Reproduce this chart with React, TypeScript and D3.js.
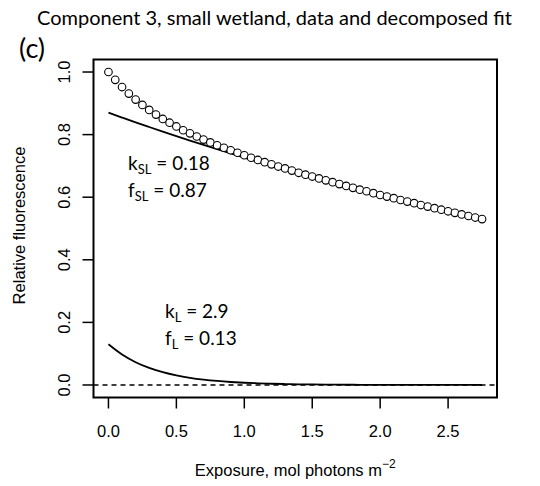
import React, { useEffect, useRef } from 'react';
import * as d3 from 'd3';

// measured exposure values (mol photons m^-2)
const exposure: number[] = [
  0.0, 0.05, 0.1, 0.15, 0.2, 0.25, 0.3, 0.35, 0.4, 0.45, 0.5, 0.55, 0.6, 0.65,
  0.7, 0.75, 0.8, 0.85, 0.9, 0.95, 1.0, 1.05, 1.1, 1.15, 1.2, 1.25, 1.3, 1.35,
  1.4, 1.45, 1.5, 1.55, 1.6, 1.65, 1.7, 1.75, 1.8, 1.85, 1.9, 1.95, 2.0, 2.05,
  2.1, 2.15, 2.2, 2.25, 2.3, 2.35, 2.4, 2.45, 2.5, 2.55, 2.6, 2.65, 2.7, 2.75,
];

// relative fluorescence (open circles)
const fluorescence: number[] = [
  1.0, 0.975, 0.952, 0.931, 0.912, 0.895, 0.879, 0.864, 0.85, 0.838, 0.826,
  0.814, 0.804, 0.794, 0.784, 0.775, 0.766, 0.758, 0.75, 0.742, 0.734, 0.726,
  0.719, 0.712, 0.705, 0.698, 0.692, 0.685, 0.678, 0.672, 0.666, 0.66, 0.654,
  0.648, 0.642, 0.636, 0.63, 0.624, 0.619, 0.613, 0.607, 0.602, 0.597, 0.591,
  0.586, 0.581, 0.575, 0.57, 0.565, 0.56, 0.555, 0.55, 0.545, 0.54, 0.535, 0.53,
];

// decomposed fit components
const fitX: number[] = [
  0, 0.1, 0.2, 0.3, 0.4, 0.5, 0.6, 0.7, 0.8, 0.9, 1.0, 1.1, 1.2, 1.3, 1.4, 1.5,
  1.6, 1.7, 1.8, 1.9, 2.0, 2.1, 2.2, 2.3, 2.4, 2.5, 2.6, 2.7, 2.75,
];
const slowFit: number[] = [
  0.87, 0.8545, 0.8392, 0.8243, 0.8096, 0.7951, 0.7809, 0.767, 0.7533, 0.7399,
  0.7267, 0.7137, 0.701, 0.6885, 0.6762, 0.6641, 0.6523, 0.6407, 0.6292, 0.618,
  0.607, 0.5962, 0.5855, 0.5751, 0.5648, 0.5547, 0.5448, 0.5351, 0.5303,
];
const labileFit: number[] = [
  0.13, 0.0973, 0.0728, 0.0545, 0.0408, 0.0305, 0.0228, 0.0171, 0.0128, 0.0096,
  0.0072, 0.0054, 0.004, 0.003, 0.0022, 0.0017, 0.0013, 0.0009, 0.0007, 0.0005,
  0.0004, 0.0003, 0.0002, 0.0002, 0.0001, 0.0001, 0.0001, 0.0001, 0.0,
];

const xTicks = [0, 0.5, 1.0, 1.5, 2.0, 2.5];
const yTicks = [0, 0.2, 0.4, 0.6, 0.8, 1.0];

const App: React.FC = () => {
  const ref = useRef<SVGSVGElement>(null);

  useEffect(() => {
    if (!ref.current) return;
    const svg = d3.select(ref.current);
    svg.selectAll('*').remove();

    const x = d3.scaleLinear().domain([-0.11, 2.86]).range([93.5, 497]);
    const y = d3.scaleLinear().domain([-0.04, 1.04]).range([397.5, 59.5]);
    const axisFont = '"Liberation Sans", Arial, sans-serif';
    const noteFont = 'Lato, "Open Sans", sans-serif';

    // title + panel letter
    svg.append('text')
      .attr('x', 37).attr('y', 25)
      .attr('textLength', 475).attr('lengthAdjust', 'spacingAndGlyphs')
      .style('font-family', noteFont).style('font-size', '20px')
      .text('Component 3, small wetland, data and decomposed fit');
    svg.append('text')
      .attr('x', 19).attr('y', 58)
      .style('font-family', noteFont).style('font-size', '27px')
      .text('(c)');

    // dashed zero line
    svg.append('line')
      .attr('x1', x(-0.11)).attr('x2', x(2.86))
      .attr('y1', y(0)).attr('y2', y(0))
      .attr('stroke', '#000').attr('stroke-width', 1.4)
      .attr('stroke-dasharray', '5,4');

    const line = d3.line<number>()
      .x((_, i) => x(fitX[i]))
      .curve(d3.curveMonotoneX);

    svg.append('path')
      .attr('d', line.y(d => y(d))(slowFit))
      .attr('fill', 'none').attr('stroke', '#000').attr('stroke-width', 1.8);
    svg.append('path')
      .attr('d', line.y(d => y(d))(labileFit))
      .attr('fill', 'none').attr('stroke', '#000').attr('stroke-width', 1.8);

    // data points
    svg.selectAll('.pt')
      .data(fluorescence)
      .enter()
      .append('circle')
      .attr('cx', (_, i) => x(exposure[i]))
      .attr('cy', d => y(d))
      .attr('r', 3.8)
      .attr('fill', '#fff')
      .attr('stroke', '#000')
      .attr('stroke-width', 1.1);

    // box
    svg.append('rect')
      .attr('x', x(-0.11)).attr('y', y(1.04))
      .attr('width', x(2.86) - x(-0.11)).attr('height', y(-0.04) - y(1.04))
      .attr('fill', 'none').attr('stroke', '#000').attr('stroke-width', 2);

    // x axis
    const xb = y(-0.04);
    svg.selectAll('.xt')
      .data(xTicks)
      .enter()
      .append('line')
      .attr('x1', d => x(d)).attr('x2', d => x(d))
      .attr('y1', xb).attr('y2', xb + 11)
      .attr('stroke', '#000').attr('stroke-width', 1.5);
    svg.selectAll('.xl')
      .data(xTicks)
      .enter()
      .append('text')
      .attr('x', d => x(d)).attr('y', 437)
      .attr('text-anchor', 'middle')
      .style('font-family', axisFont).style('font-size', '16.5px')
      .text(d => d3.format('.1f')(d));

    // y axis
    const yl = x(-0.11);
    svg.selectAll('.yt')
      .data(yTicks)
      .enter()
      .append('line')
      .attr('x1', yl - 11).attr('x2', yl)
      .attr('y1', d => y(d)).attr('y2', d => y(d))
      .attr('stroke', '#000').attr('stroke-width', 1.5);
    svg.selectAll('.yl')
      .data(yTicks)
      .enter()
      .append('text')
      .attr('transform', d => `translate(70,${y(d)}) rotate(-90)`)
      .attr('text-anchor', 'middle')
      .style('font-family', axisFont).style('font-size', '16.5px')
      .text(d => d3.format('.1f')(d));

    // axis titles
    const xt = svg.append('text')
      .attr('x', (x(-0.11) + x(2.86)) / 2).attr('y', 476)
      .attr('text-anchor', 'middle')
      .style('font-family', axisFont).style('font-size', '16.5px');
    xt.append('tspan').text('Exposure, mol photons m');
    xt.append('tspan').attr('dy', -8).style('font-size', '12px').text('\u22122');

    svg.append('text')
      .attr('transform', `translate(25,${(y(-0.04) + y(1.04)) / 2 - 3}) rotate(-90)`)
      .attr('text-anchor', 'middle')
      .style('font-family', axisFont).style('font-size', '16.5px')
      .text('Relative fluorescence');

    // rate constant annotations
    const note = (px: number, py: number, main: string, sub: string, rest: string) => {
      const t = svg.append('text')
        .attr('x', px).attr('y', py)
        .style('font-family', noteFont).style('font-size', '19px');
      t.append('tspan').text(main);
      t.append('tspan').attr('dy', 4).style('font-size', '13px').text(sub);
      t.append('tspan').attr('dy', -4).text(rest);
    };
    note(128, 170, 'k', 'SL', ' = 0.18');
    note(128, 197, 'f', 'SL', ' = 0.87');
    note(165, 318, 'k', 'L', ' = 2.9');
    note(165, 345, 'f', 'L', ' = 0.13');
  }, []);

  return (
    <>
      <style>{'body{margin:0;background:#fff}'}</style>
      <svg ref={ref} width={540} height={486} style={{ display: 'block' }} />
    </>
  );
};

export default App;
